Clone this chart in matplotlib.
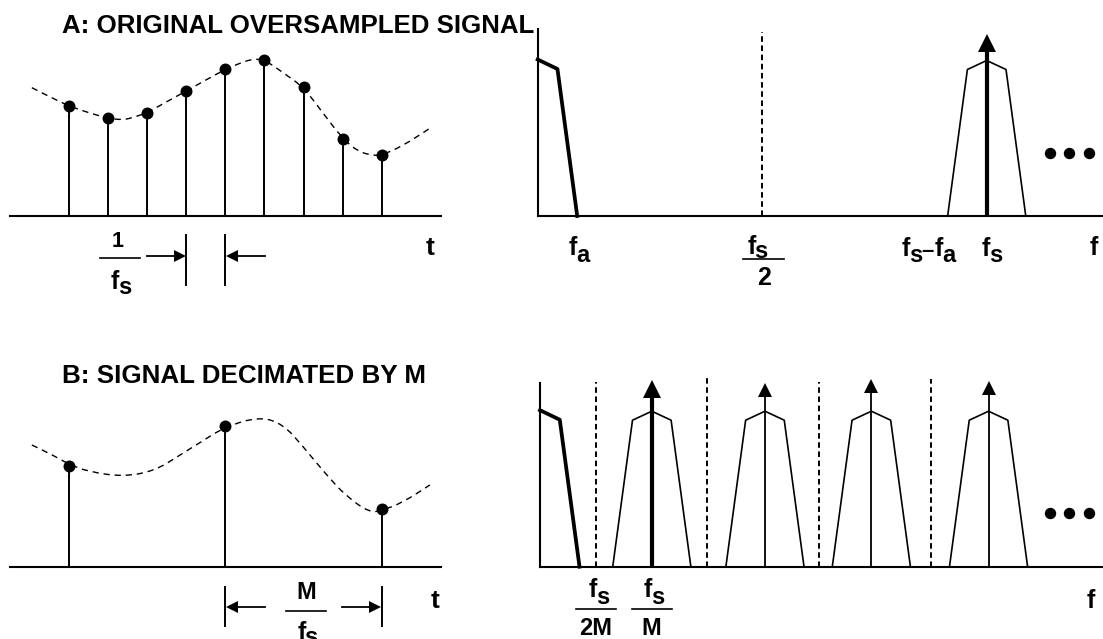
import matplotlib
matplotlib.use('Agg')
import matplotlib.pyplot as plt
from matplotlib.path import Path
from matplotlib.patches import PathPatch

plt.rcParams['font.family'] = ['Liberation Sans', 'DejaVu Sans']
plt.rcParams['font.weight'] = 'bold'
plt.rcParams['lines.scale_dashes'] = False

W, H = 1103, 639

# ---- time domain (t in sample periods 1/fs, heights in arbitrary units) ----
t_samples_a = [1, 2, 3, 4, 5, 6, 7, 8, 9]
h_samples_a = [110, 97.7, 103.3, 125, 146.7, 156.3, 128.7, 77.3, 61]
t_curve_a = [0.05, 0.5, 1, 1.5, 2, 2.4, 2.7, 3, 3.5, 4, 4.5, 5, 5.4, 5.7,
             6, 6.5, 7, 7.5, 8, 8.4, 8.78, 9, 9.5, 10.23]
h_curve_a = [128.3, 119.3, 110, 103.3, 97.7, 96, 99.3, 103.3, 114.3, 125,
             136, 146.7, 153.3, 157, 156.3, 142.7, 128.7, 102.7, 77.3, 64.3,
             60.5, 61, 69.3, 87.7]

t_samples_b = [1, 5, 9]
h_samples_b = [101.6, 141.6, 58.3]
t_curve_b = [0.05, 0.5, 1, 1.5, 2.39, 3.2, 3.84, 4.35, 5, 5.88, 6.48, 6.99,
             7.55, 8.1, 8.7, 9, 9.5, 10.23]
h_curve_b = [122.3, 114, 103, 95.6, 90.6, 96.6, 112.3, 124.7, 140.7, 150.7,
             143, 120.6, 94, 70.6, 54.6, 57, 64, 82.3]

# ---- frequency domain (f in units of fs) ----
lowpass_f = [0, 0.044, 0.088]
lowpass_h = [156.5, 147, 0]
image_df = [-0.087, -0.043, 0, 0.043, 0.087]
image_h = [0, 146.5, 155.5, 146.5, 0]

images_a = [1.0]
tips_a = [182.7]
nyquist_a = [0.5]
nyq_top_a = [184.3]
dots_f_a = [1.141, 1.184, 1.227]
dots_h_a = [62.7, 62.7, 62.7]

images_b = [0.249, 0.501, 0.738, 0.999]
tips_b = [186.7, 183.4, 187.4, 185.0]
nyquist_b = [0.124, 0.373, 0.621, 0.870]
nyq_top_b = [185.0, 188.4, 185.0, 187.4]
dots_f_b = [1.136, 1.179, 1.222]
dots_h_b = [53.4, 53.4, 53.4]

fig = plt.figure(figsize=(W / 100, H / 100), dpi=100)
fig.patch.set_facecolor('white')

# overlay in pixel coordinates for labels and dimension arrows
ov = fig.add_axes([0, 0, 1, 1])
ov.set_xlim(0, W)
ov.set_ylim(H, 0)
ov.axis('off')

T_PX0, T_PX = 69.0, 39.1   # pixel of t=1 and pixels per sample period
F_PX = 449.0               # pixels per fs


def panel(x0, x1, y_base, xlim, top=200):
    a = fig.add_axes([x0 / W, (H - y_base) / H, (x1 - x0) / W, top / H])
    a.set_xlim(*xlim)
    a.set_ylim(0, top)
    a.axis('off')
    return a


def smooth_dashed(ax, xs, ys):
    verts = [(xs[0], ys[0])]
    codes = [Path.MOVETO]
    for i in range(1, len(xs) - 1):
        verts += [(xs[i], ys[i]), ((xs[i] + xs[i + 1]) / 2, (ys[i] + ys[i + 1]) / 2)]
        codes += [Path.CURVE3, Path.CURVE3]
    verts.append((xs[-1], ys[-1]))
    codes.append(Path.LINETO)
    ax.add_patch(PathPatch(Path(verts, codes), fill=False, color='black',
                           lw=1.0, linestyle=(0, (4.5, 3.5)), clip_on=False))


def time_panel(y_base, ts, hs, tc, hc):
    x0, x1 = 10, 440.7
    ax = panel(x0, x1, y_base, (1 + (x0 - T_PX0) / T_PX, 1 + (x1 - T_PX0) / T_PX))
    ax.axhline(0, color='black', lw=1.5, clip_on=False)
    smooth_dashed(ax, tc, hc)
    ax.vlines(ts, 0, hs, color='black', lw=1.4)
    ax.plot(ts, hs, 'o', color='black', ms=8.6, mew=0, zorder=5)
    return ax


def spike(ax, f, tip, thick):
    lw, ms, half = (3.0, 13.5, 9.2) if thick else (1.3, 9.5, 6.4)
    ax.plot([f, f], [0, tip - half], color='black', lw=lw, solid_capstyle='butt')
    ax.plot(f, tip - half, '^', color='black', ms=ms, mew=0, clip_on=False)


def spectrum_panel(x0, y_base, axis_top, images, tips, nyq, nyq_top, dots_f, dots_h):
    ax = panel(x0, W, y_base, (0, (W - x0) / F_PX))
    ax.axhline(0, color='black', lw=1.5, clip_on=False)
    ax.plot([0, 0], [0, axis_top], color='black', lw=1.5, clip_on=False)
    ax.plot(lowpass_f, lowpass_h, color='black', lw=2.7, clip_on=False)
    for f, top in zip(nyq, nyq_top):
        ax.plot([f, f], [0, top], color='black', lw=1.4, linestyle=(0, (4, 2.6)))
    for k, (fc, tip) in enumerate(zip(images, tips)):
        ax.plot([fc + d for d in image_df], image_h, color='black', lw=1.2)
        spike(ax, fc, tip, thick=(k == 0))
    ax.plot(dots_f, dots_h, 'o', color='black', ms=8.2, mew=0)
    return ax


time_panel(216, t_samples_a, h_samples_a, t_curve_a, h_curve_a)
time_panel(567.3, t_samples_b, h_samples_b, t_curve_b, h_curve_b)
spectrum_panel(537.7, 216, 186.7, images_a, tips_a, nyquist_a, nyq_top_a,
               dots_f_a, dots_h_a)
spectrum_panel(540, 566.7, 184, images_b, tips_b, nyquist_b, nyq_top_b,
               dots_f_b, dots_h_b)

# ---- text ----
ov.text(61.7, 33.3, 'A: ORIGINAL OVERSAMPLED SIGNAL', size=18.6, weight='bold',
        ha='left', va='baseline')
ov.text(61.7, 383.3, 'B: SIGNAL DECIMATED BY M', size=18.7, weight='bold',
        ha='left', va='baseline')

FS = 18


def txt(x, y, s, size=FS):
    ov.text(x, y, s, size=size, weight='bold', ha='center', va='baseline')


def fsub(x, y, base, sub, drop=6, size=FS):
    ov.text(x + 0.5, y, base, size=size, weight='bold', ha='right', va='baseline')
    ov.text(x - 0.5, y + drop, sub, size=size - 1, weight='bold', ha='left', va='baseline')


def bar(x0, x1, y):
    ov.plot([x0, x1], [y, y], color='black', lw=1.2)


def dim_arrow(x_from, x_tip, y):
    sgn = 1 if x_tip > x_from else -1
    ov.plot([x_from, x_tip - sgn * 6], [y, y], color='black', lw=1.3)
    ov.plot(x_tip - sgn * 6.5, y, '>' if sgn > 0 else '<', color='black', ms=9, mew=0)


def tick(x, y0, y1):
    ov.plot([x, x], [y0, y1], color='black', lw=1.4)


# A time axis
txt(117.5, 246.7, '1', size=15.5)
bar(100, 140, 258.3)
fsub(118.3, 289, 'f', 's', drop=4.5)
dim_arrow(146.7, 186, 255.7)
dim_arrow(265, 225.3, 255.7)
tick(186, 235, 285)
tick(225, 235, 285)
txt(430, 255, 't', size=19)

# A spectrum
fsub(576.7, 255, 'f', 'a', drop=7)
fsub(755, 254.5, 'f', 's', drop=3.5)
bar(743, 784, 259.3)
txt(764, 285, '2')
fsub(909.2, 256, 'f', 's', drop=6)
txt(927.2, 256.5, '\u2013', size=16)
fsub(942.5, 256, 'f', 'a', drop=6)
fsub(989.3, 256, 'f', 's', drop=6)
txt(1093.5, 255, 'f')

# B time axis
txt(306, 599.3, 'M', size=17)
bar(286, 326, 610.7)
fsub(305, 639.5, 'f', 's', drop=5)
dim_arrow(265, 225.3, 606.7)
dim_arrow(341.7, 381.7, 606.7)
tick(225, 586.7, 626)
tick(381.7, 586.7, 626)
txt(435, 608, 't', size=19)

# B spectrum
fsub(596.7, 597, 'f', 's', drop=7.5)
bar(576, 616, 608.7)
txt(596, 635, '2M', size=17)
fsub(651.7, 597, 'f', 's', drop=7.5)
bar(632.3, 671.7, 608.7)
txt(651.7, 635, 'M', size=17)
txt(1090.8, 608.3, 'f')

fig.savefig('out.png', dpi=100, facecolor='white')
